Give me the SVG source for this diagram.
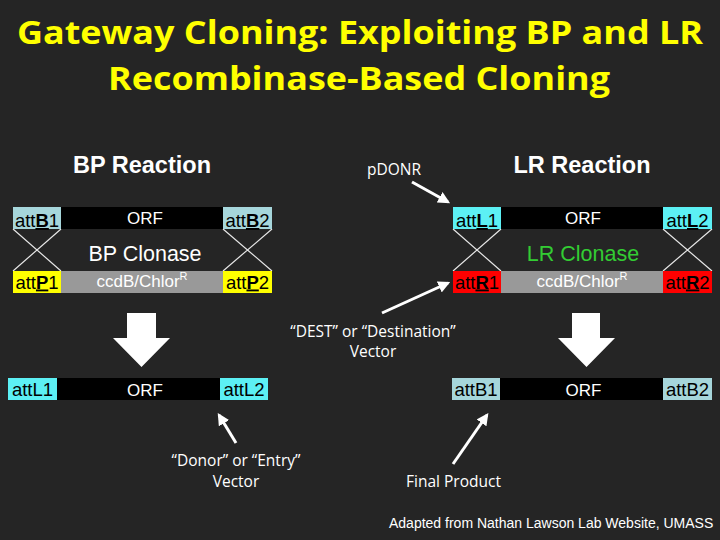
<svg xmlns="http://www.w3.org/2000/svg" width="720" height="540" viewBox="0 0 720 540">
<defs>
<style>
.title{font-family:"Open Sans",Lato,sans-serif;font-weight:bold;font-size:32px;fill:#ffff00;text-anchor:middle}
.head{font-family:"Liberation Sans",Arial,sans-serif;font-weight:bold;font-size:23.5px;fill:#ffffff;text-anchor:middle}
.lab{font-family:"Liberation Sans",Arial,sans-serif;font-size:18.5px;fill:#000;text-anchor:middle}
.orf{font-family:"Liberation Sans",Arial,sans-serif;font-size:17px;fill:#fff;text-anchor:middle}
.clon{font-family:"Liberation Sans",Arial,sans-serif;font-size:21.5px;text-anchor:middle}
.note{font-family:"Open Sans",Lato,sans-serif;font-size:15.5px;fill:#fff;text-anchor:middle}
.foot{font-family:"Liberation Sans",Arial,sans-serif;font-size:14px;fill:#fff}
.u{font-weight:bold;text-decoration:underline}
.x{stroke:#e6e6e6;stroke-width:1.2;fill:none}
.ptr{stroke:#fff;stroke-width:3;fill:none;marker-end:url(#ah)}
</style>
<marker id="ah" viewBox="0 0 10 10" refX="8" refY="5" markerWidth="4" markerHeight="4" orient="auto" markerUnits="strokeWidth">
<path d="M0,0 L10,5 L0,10 z" fill="#fff"/>
</marker>
</defs>
<rect width="720" height="540" fill="#252525"/>

<g id="title">
<text class="title" x="360" y="44" textLength="686" lengthAdjust="spacingAndGlyphs">Gateway Cloning: Exploiting BP and LR</text>
<text class="title" x="359" y="90" textLength="502" lengthAdjust="spacingAndGlyphs">Recombinase-Based Cloning</text>
</g>

<g id="bp-heading"><text class="head" x="142" y="173">BP Reaction</text></g>
<g id="lr-heading"><text class="head" x="582" y="173">LR Reaction</text></g>

<g id="connectors">
<path class="x" d="M13,229 L61,271 M61,229 L13,271 M223,229 L272,271 M272,229 L223,271"/>
<path class="x" d="M453,229 L501,271 M501,229 L453,271 M663,229 L712,271 M712,229 L663,271"/>
<path fill="#fff" d="M127,313 H156 V338 H170 L141.5,367 L113,338 H127 Z"/>
<path fill="#fff" d="M572,313 H600 V338 H615 L586.5,367 L558,338 H572 Z"/>
<line class="ptr" x1="236" y1="443" x2="219" y2="415"/>
<line class="ptr" x1="453" y1="464" x2="487" y2="415"/>
<line class="ptr" x1="412" y1="182" x2="448" y2="202"/>
<line class="ptr" x1="382" y1="313" x2="448" y2="283"/>
</g>

<g id="bp-top">
<rect x="13" y="207" width="48" height="22" fill="#a6d6db"/>
<rect x="61" y="207" width="162" height="22" fill="#000"/>
<rect x="223" y="207" width="49" height="22" fill="#a6d6db"/>
<text class="lab" x="37" y="227">att<tspan class="u">B</tspan>1</text>
<text class="orf" x="145" y="223.5">ORF</text>
<text class="lab" x="247.5" y="227">att<tspan class="u">B</tspan>2</text>
</g>
<g id="bp-clonase"><text class="clon" x="145" y="261" fill="#fff">BP Clonase</text></g>
<g id="bp-bottom">
<rect x="13" y="271" width="48" height="22" fill="#ffff00"/>
<rect x="61" y="271" width="162" height="22" fill="#999"/>
<rect x="223" y="271" width="49" height="22" fill="#ffff00"/>
<text class="lab" x="37" y="288.5">att<tspan class="u">P</tspan>1</text>
<text class="orf" x="142" y="287">ccdB/Chlor<tspan font-size="11" dy="-7">R</tspan></text>
<text class="lab" x="247.5" y="288.5">att<tspan class="u">P</tspan>2</text>
</g>

<g id="lr-top">
<rect x="453" y="207" width="48" height="22" fill="#5cf0f4"/>
<rect x="501" y="207" width="162" height="22" fill="#000"/>
<rect x="663" y="207" width="49" height="22" fill="#5cf0f4"/>
<text class="lab" x="477" y="227">att<tspan class="u">L</tspan>1</text>
<text class="orf" x="583" y="223.5">ORF</text>
<text class="lab" x="687.5" y="227">att<tspan class="u">L</tspan>2</text>
</g>
<g id="lr-clonase"><text class="clon" x="583" y="261" fill="#33cc33">LR Clonase</text></g>
<g id="lr-bottom">
<rect x="453" y="271" width="48" height="22" fill="#ff0000"/>
<rect x="501" y="271" width="162" height="22" fill="#999"/>
<rect x="663" y="271" width="49" height="22" fill="#ff0000"/>
<text class="lab" x="477" y="288.5" fill="#6e0000">att<tspan class="u">R</tspan>1</text>
<text class="orf" x="582" y="287">ccdB/Chlor<tspan font-size="11" dy="-7">R</tspan></text>
<text class="lab" x="687.5" y="288.5" fill="#6e0000">att<tspan class="u">R</tspan>2</text>
</g>

<g id="entry-clone">
<rect x="8" y="378" width="49" height="22" fill="#5cf0f4"/>
<rect x="57" y="378" width="163" height="22" fill="#000"/>
<rect x="220" y="378" width="48" height="22" fill="#5cf0f4"/>
<text class="lab" x="32.5" y="396">attL1</text>
<text class="orf" x="145" y="396">ORF</text>
<text class="lab" x="244" y="396">attL2</text>
</g>

<g id="expression-clone">
<rect x="452" y="378" width="48" height="22" fill="#a6d6db"/>
<rect x="500" y="378" width="163" height="22" fill="#000"/>
<rect x="663" y="378" width="49" height="22" fill="#a6d6db"/>
<text class="lab" x="476" y="396">attB1</text>
<text class="orf" x="583.5" y="396">ORF</text>
<text class="lab" x="687.5" y="396">attB2</text>
</g>

<g id="notes">
<text class="note" x="394" y="175">pDONR</text>
<text class="note" x="373" y="337">“DEST” or “Destination”</text>
<text class="note" x="373" y="357">Vector</text>
<text class="note" x="236" y="466">“Donor” or “Entry”</text>
<text class="note" x="236" y="487">Vector</text>
<text class="note" x="453.5" y="487">Final Product</text>
</g>
<g id="footer"><text class="foot" x="389" y="528">Adapted from Nathan Lawson Lab Website, UMASS</text></g>
</svg>
